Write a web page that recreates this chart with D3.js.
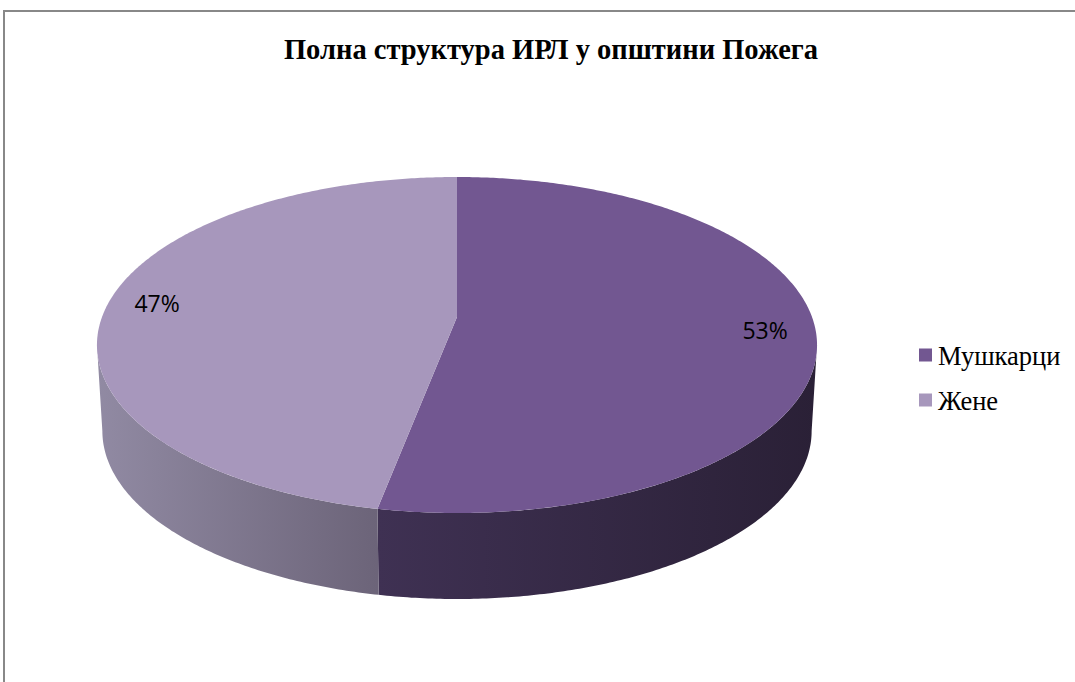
<!DOCTYPE html>
<html>
<head>
<meta charset="utf-8">
<script src="https://cdn.jsdelivr.net/npm/d3@7"></script>
<style>
  html, body { margin: 0; padding: 0; background: #ffffff; }
  svg { display: block; }
</style>
</head>
<body>
<svg id="chart" width="1075" height="682"></svg>
<script>
// ---- data ----
const title = "Полна структура ИРЛ у општини Пожега";
const categories = ["Мушкарци", "Жене"];
const values = [53, 47];
const labels = ["53%", "47%"];
const topColors = ["#725791", "#a797bc"];
const sideColorsStart = ["#3f3153", "#918aa3"];
const sideColorsEnd = ["#2a2036", "#6c6479"];

// ---- layout ----
const W = 1075, H = 682;
const svg = d3.select("#chart");

// frame
svg.append("path")
  .attr("d", `M4,${H} L4,11 L${W},11`)
  .attr("fill", "none").attr("stroke", "#888888").attr("stroke-width", 2);

// title
svg.append("text")
  .attr("x", 551).attr("y", 59)
  .attr("text-anchor", "middle")
  .attr("font-family", "'Liberation Serif', 'Times New Roman', serif")
  .attr("font-weight", "bold")
  .attr("font-size", 28.5)
  .attr("fill", "#000")
  .text(title);

// perspective pie projection
const cx = 457, cy = 317;      // projected centre of the top face
const R = 355;                 // horizontal radius
const p = -110.5, q = 0.1667;  // perspective parameters
const depth = 86, shrink = 0.985;

function topPt(a, f = 1) {
  const s = Math.sin(a), u = Math.cos(a);
  const d = 1 + f * q * u;
  return [cx + f * R * s / d, (cy + f * p * u) / d];
}
function botPt(a) {
  const t = topPt(a);
  return [cx + (t[0] - cx) * shrink, t[1] + depth];
}
function arcPts(fn, a0, a1) {
  const n = Math.max(2, Math.ceil(Math.abs(a1 - a0) / 0.01));
  return d3.range(n + 1).map(i => fn(a0 + (a1 - a0) * i / n));
}

const pie = d3.pie().sort(null).startAngle(0).endAngle(2 * Math.PI);
const arcs = pie(values);

const defs = svg.append("defs");
const aMin = Math.acos(-q), aMax = 2 * Math.PI - Math.acos(-q);
arcs.forEach((d, i) => {
  const g = defs.append("linearGradient")
    .attr("id", "side" + i)
    .attr("gradientUnits", "userSpaceOnUse");
  const lo = Math.max(d.startAngle, aMin);
  const hi = Math.min(d.endAngle, aMax);
  const xa = topPt(lo)[0], xb = topPt(hi)[0];
  const left = Math.min(xa, xb), right = Math.max(xa, xb);
  g.attr("x1", left).attr("x2", right).attr("y1", 0).attr("y2", 0);
  g.append("stop").attr("offset", 0).attr("stop-color", sideColorsStart[i]);
  g.append("stop").attr("offset", 1).attr("stop-color", sideColorsEnd[i]);
});

const line = d3.line();

// sides
arcs.forEach((d, i) => {
  const lo = Math.max(d.startAngle, aMin);
  const hi = Math.min(d.endAngle, aMax);
  if (hi <= lo) return;
  const pts = arcPts(a => topPt(a), lo, hi).concat(arcPts(botPt, hi, lo));
  svg.append("path")
    .attr("d", line(pts) + "Z")
    .attr("fill", `url(#side${i})`);
});

// top faces
arcs.forEach((d, i) => {
  const pts = [[cx, cy]].concat(arcPts(a => topPt(a), d.startAngle, d.endAngle));
  svg.append("path")
    .attr("d", line(pts) + "Z")
    .attr("fill", topColors[i]);
});

// data labels
arcs.forEach((d, i) => {
  const mid = (d.startAngle + d.endAngle) / 2;
  const pt = topPt(mid, 0.86);
  svg.append("text")
    .attr("x", pt[0]).attr("y", pt[1])
    .attr("dy", "0.36em")
    .attr("text-anchor", "middle")
    .attr("font-family", "'Open Sans', sans-serif")
    .attr("font-size", 23)
    .attr("fill", "#000")
    .text(labels[i]);
});

// legend
const ly = d3.scaleBand().domain(categories).range([333, 423]);
const leg = svg.append("g");
categories.forEach((c, i) => {
  const y = ly(c) + ly.bandwidth() / 2;
  leg.append("rect")
    .attr("x", 919).attr("y", y - 7).attr("width", 13).attr("height", 13)
    .attr("fill", topColors[i]);
  leg.append("text")
    .attr("x", 938).attr("y", y)
    .attr("dy", "0.35em")
    .attr("font-family", "'Liberation Serif', 'Times New Roman', serif")
    .attr("font-size", 26.5)
    .attr("fill", "#000")
    .text(c);
});
</script>
</body>
</html>
